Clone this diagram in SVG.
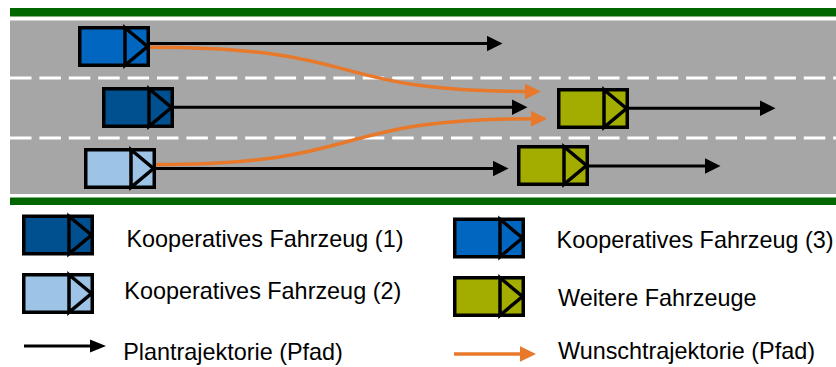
<svg xmlns="http://www.w3.org/2000/svg" xmlns:xlink="http://www.w3.org/1999/xlink" width="836" height="367" viewBox="0 0 836 367">
  <style>
    .road { fill: #a6a6a6; }
    .verge { fill: #006600; }
    .lane { stroke: #ffffff; stroke-width: 3; stroke-dasharray: 21.5 7.9; fill: none; }
    .plan { stroke: #000000; stroke-width: 3; fill: none; }
    .wish { stroke: #e8782a; stroke-width: 3.5; fill: none; }
    .veh-body { stroke: #000000; stroke-width: 3.5; }
    .veh-line { stroke: #000000; stroke-width: 3.5; fill: none; stroke-linejoin: miter; }
    .label { font-family: "Liberation Sans", Arial, sans-serif; font-size: 23.4px; fill: #000000; }
    .coop1 { fill: #00508f; }
    .coop2 { fill: #9dc3e6; }
    .coop3 { fill: #0066c0; }
    .other { fill: #a3ad00; }
  </style>
  <defs>
    <marker id="head-plan" markerUnits="userSpaceOnUse" markerWidth="16" markerHeight="16" refX="4" refY="8" orient="auto">
      <path d="M0,0.3 L15.5,8 L0,15.7 Z" fill="#000000"/>
    </marker>
    <marker id="head-plan-small" markerUnits="userSpaceOnUse" markerWidth="16" markerHeight="14" refX="4" refY="7" orient="auto">
      <path d="M0,0.5 L16,7 L0,13.5 Z" fill="#000000"/>
    </marker>
    <marker id="head-wish" markerUnits="userSpaceOnUse" markerWidth="16" markerHeight="16" refX="4" refY="8" orient="auto">
      <path d="M0,0.2 L16,8 L0,15.8 Z" fill="#e8782a"/>
    </marker>
    <!-- vehicle pictogram: box with a forward-pointing triangle at the front -->
    <g id="vehicle">
      <rect class="veh-body" x="1.75" y="1.75" width="68.5" height="37.5"/>
      <path class="veh-line" d="M47,1.75 L69.5,20.5 L47,39.25 Z"/>
    </g>
  </defs>

  <!-- carriageway -->
  <rect class="verge" x="10" y="8" width="826" height="8.5"/>
  <rect class="road" x="10" y="20.5" width="826" height="173.5"/>
  <rect class="verge" x="10" y="197.5" width="826" height="7.5"/>
  <line class="lane" x1="10" y1="78" x2="836" y2="78"/>
  <line class="lane" x1="10" y1="138" x2="836" y2="138"/>

  <!-- trajectories -->
  <g id="connectors">
    <path class="plan" d="M148,43.5 H491" marker-end="url(#head-plan)"/>
    <path class="plan" d="M172,107.3 H516" marker-end="url(#head-plan)"/>
    <path class="plan" d="M154,168.5 H497" marker-end="url(#head-plan)"/>
    <path class="plan" d="M627,108.3 H764" marker-end="url(#head-plan)"/>
    <path class="plan" d="M588,166 H709" marker-end="url(#head-plan)"/>
    <path class="wish" d="M148,47.3 C375,47.3 320,91.5 529,91.5" marker-end="url(#head-wish)"/>
    <path class="wish" d="M154,164.5 C375,164.5 322,118.7 535,118.7" marker-end="url(#head-wish)"/>
  </g>

  <!-- vehicles on the road -->
  <g id="coop-vehicle-3"><use xlink:href="#vehicle" href="#vehicle" class="coop3" x="78" y="26"/></g>
  <g id="coop-vehicle-1"><use xlink:href="#vehicle" href="#vehicle" class="coop1" x="102" y="87"/></g>
  <g id="coop-vehicle-2"><use xlink:href="#vehicle" href="#vehicle" class="coop2" x="84" y="148"/></g>
  <g id="other-vehicle-a"><use xlink:href="#vehicle" href="#vehicle" class="other" x="557" y="88"/></g>
  <g id="other-vehicle-b"><use xlink:href="#vehicle" href="#vehicle" class="other" x="517" y="145"/></g>

  <!-- legend -->
  <g id="legend-coop1">
    <use xlink:href="#vehicle" href="#vehicle" class="coop1" x="22" y="214.5"/>
    <text class="label" x="126.5" y="246.7">Kooperatives Fahrzeug (1)</text>
  </g>
  <g id="legend-coop2">
    <use xlink:href="#vehicle" href="#vehicle" class="coop2" x="22" y="273"/>
    <text class="label" x="124.3" y="298.7">Kooperatives Fahrzeug (2)</text>
  </g>
  <g id="legend-plan">
    <path class="plan" d="M24,346 H94" marker-end="url(#head-plan-small)"/>
    <text class="label" x="123.2" y="360">Plantrajektorie (Pfad)</text>
  </g>
  <g id="legend-coop3">
    <use xlink:href="#vehicle" href="#vehicle" class="coop3" x="453" y="217.5"/>
    <text class="label" x="556.6" y="248.3">Kooperatives Fahrzeug (3)</text>
  </g>
  <g id="legend-other">
    <use xlink:href="#vehicle" href="#vehicle" class="other" x="453" y="276"/>
    <text class="label" x="558" y="306">Weitere Fahrzeuge</text>
  </g>
  <g id="legend-wish">
    <path class="wish" d="M454,354 H524" marker-end="url(#head-wish)"/>
    <text class="label" x="558" y="359.3">Wunschtrajektorie (Pfad)</text>
  </g>
</svg>
